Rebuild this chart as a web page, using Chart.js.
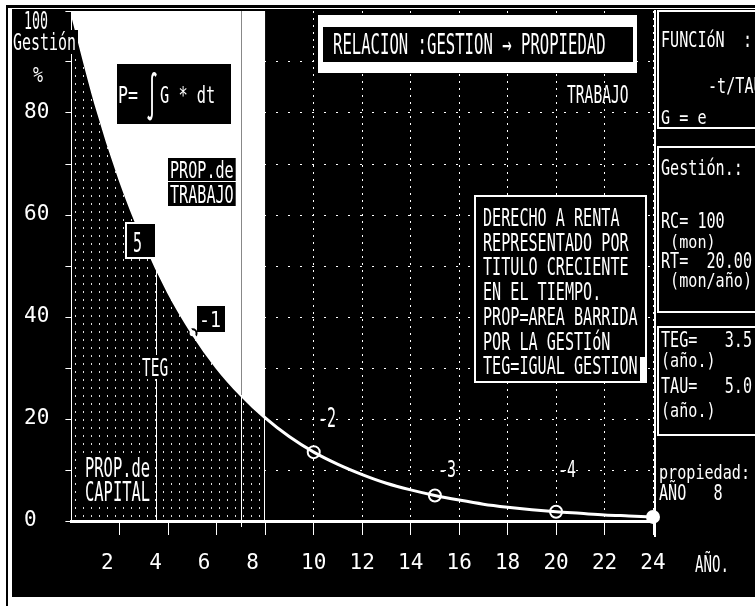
<!DOCTYPE html>
<html>
<head>
<meta charset="utf-8">
<script src="https://cdn.jsdelivr.net/npm/chart.js@4.4.0/dist/chart.umd.min.js"></script>
<style>
  html, body { margin: 0; padding: 0; background: #fff; }
  canvas { display: block; }
</style>
</head>
<body>
<canvas id="gestionChart" width="755" height="606"></canvas>
<script>
// Values
const years = [0, 1, 2, 3, 4, 5, 6, 7, 8, 9, 10, 11, 12, 13, 14, 15, 16, 17, 18, 19, 20, 21, 22, 23, 24];
const gestion = [100, 81.9, 67.0, 54.9, 44.9, 36.8, 30.1, 24.7, 20.2, 16.5, 13.5, 11.1, 9.1, 7.4, 6.1, 5.0, 4.1, 3.3, 2.7, 2.2, 1.8, 1.5, 1.2, 1.0, 0.8];
const markerYears = [5, 10, 15, 20];
const endYear = 24;
const propYear = 8;      // AÑO 8: end of the swept area
const tegYear = 3.5;     // TEG
const tegValue = 49.6;
const cutYear = 7;
const cutValue = 24.7;

const MONO = '"DejaVu Sans Mono", "Liberation Mono", monospace';
const TICK_FONT = '"DejaVu Sans Mono", monospace';
const NONE = 'rgba(0,0,0,0)';

const curvePoints = years.map((t, i) => ({ x: t, y: gestion[i] }));
const capitalPoints = curvePoints.filter(p => p.x <= propYear);
const markerPoints = markerYears.map(t => ({ x: t, y: gestion[years.indexOf(t)] }));
const endPoint = [{ x: endYear, y: gestion[years.indexOf(endYear)] }];

// dotted fill for the capital area
const pc = document.createElement('canvas');
pc.width = 8; pc.height = 8;
const pctx = pc.getContext('2d');
pctx.fillStyle = '#000';
pctx.fillRect(0, 0, 8, 8);
pctx.fillStyle = '#ddd';
pctx.fillRect(3, 3, 1, 2);
const dotPattern = pctx.createPattern(pc, 'repeat');

function put(ctx, s, x, top, capH, cw, color, bg) {
  const size = capH / 0.73;
  ctx.font = size.toFixed(1) + 'px ' + MONO;
  ctx.textAlign = 'left';
  ctx.textBaseline = 'alphabetic';
  if (bg) {
    ctx.fillStyle = bg;
    ctx.fillRect(x - 2, top - 3, s.length * cw + 4, capH + 6);
  }
  ctx.fillStyle = color || '#fff';
  ctx.fillText(s, x, top + capH, s.length * cw);
}

const screenPlugin = {
  id: 'screen',
  beforeDraw(chart) {
    const ctx = chart.ctx;
    ctx.save();
    ctx.fillStyle = '#fff';
    ctx.fillRect(0, 0, 755, 606);
    ctx.fillStyle = '#000';
    ctx.fillRect(6, 5, 749, 3);
    ctx.fillRect(6, 5, 2, 601);
    ctx.fillRect(12, 9, 743, 588);
    ctx.restore();
  },
  afterDatasetsDraw(chart) {
    const ctx = chart.ctx;
    const xs = chart.scales.x, ys = chart.scales.y;
    const y0 = ys.getPixelForValue(0);
    ctx.save();
    ctx.lineWidth = 1;
    // line at year 7
    let x = Math.round(xs.getPixelForValue(cutYear)) + 0.5;
    ctx.strokeStyle = '#888';
    ctx.beginPath();
    ctx.moveTo(x, chart.chartArea.top);
    ctx.lineTo(x, ys.getPixelForValue(cutValue));
    ctx.stroke();
    ctx.strokeStyle = '#fff';
    ctx.beginPath();
    ctx.moveTo(x, ys.getPixelForValue(cutValue));
    ctx.lineTo(x, y0 + 6);
    ctx.stroke();
    // TEG line
    x = Math.round(xs.getPixelForValue(tegYear)) + 0.5;
    ctx.beginPath();
    ctx.moveTo(x, ys.getPixelForValue(tegValue));
    ctx.lineTo(x, y0);
    ctx.stroke();
    // edge of swept area
    x = Math.round(xs.getPixelForValue(propYear)) - 0.5;
    ctx.beginPath();
    ctx.moveTo(x, ys.getPixelForValue(gestion[years.indexOf(propYear)]));
    ctx.lineTo(x, y0);
    ctx.stroke();
    ctx.restore();
  },
  afterDraw(chart) {
    const ctx = chart.ctx;
    ctx.save();
    // y axis head
    put(ctx, '100', 24, 11, 18, 8);
    ctx.fillStyle = '#000';
    ctx.fillRect(12, 30, 66, 24);
    put(ctx, 'Gestión', 13, 33, 17, 9);
    put(ctx, '%', 33, 66, 16, 10);

    // P = integral box
    ctx.fillStyle = '#000';
    ctx.fillRect(117, 64, 114, 60);
    put(ctx, 'P=', 118, 86, 17, 10);
    ctx.font = '46px ' + MONO;
    ctx.fillStyle = '#fff';
    ctx.fillText('∫', 146, 112, 12);
    put(ctx, 'G * dt', 160, 86, 17, 9.2);

    put(ctx, 'PROP.de', 170, 161, 17, 9.1, '#fff', '#000');
    put(ctx, 'TRABAJO', 170, 185, 18, 9.1, '#fff', '#000');

    // "5" box
    ctx.fillStyle = '#fff';
    ctx.fillRect(125, 222, 32, 37);
    ctx.fillStyle = '#000';
    ctx.fillRect(127, 224, 28, 33);
    put(ctx, '5', 133, 233, 19, 9);

    ctx.fillStyle = '#000';
    ctx.fillRect(197, 306, 28, 26);
    put(ctx, '-1', 199, 311, 16, 11);

    put(ctx, 'TEG', 142, 358, 18, 8.7, '#fff', '#000');
    put(ctx, 'PROP.de', 85, 457, 20, 9.3, '#fff', '#000');
    put(ctx, 'CAPITAL', 85, 481, 20, 9.3, '#fff', '#000');

    put(ctx, '-2', 318, 408, 19, 9);
    put(ctx, '-3', 438, 460, 17, 9);
    put(ctx, '-4', 558, 460, 17, 9);
    put(ctx, 'TRABAJO', 567, 85, 18, 8.8);

    // title
    ctx.fillStyle = '#fff';
    ctx.fillRect(318, 15, 319, 58);
    ctx.fillStyle = '#000';
    ctx.fillRect(323, 27, 310, 35);
    put(ctx, 'RELACION :GESTION → PROPIEDAD', 333, 33, 21, 9.4);

    // description box
    ctx.fillStyle = '#000';
    ctx.fillRect(474, 195, 173, 188);
    ctx.strokeStyle = '#fff';
    ctx.lineWidth = 2;
    ctx.strokeRect(475, 196, 171, 186);
    const desc = ['DERECHO A RENTA', 'REPRESENTADO POR', 'TITULO CRECIENTE', 'EN EL TIEMPO.',
      'PROP=AREA BARRIDA', 'POR LA GESTIóN', 'TEG=IGUAL GESTION'];
    desc.forEach((s, i) => put(ctx, s, 483, 208 + i * 24.7, 18, 9.1));
    ctx.fillStyle = '#fff';
    ctx.fillRect(640, 357, 7, 25);

    // right panel
    ctx.strokeStyle = '#fff';
    ctx.lineWidth = 2;
    ctx.beginPath();
    ctx.moveTo(655, 10);
    ctx.lineTo(655, 537);
    ctx.stroke();
    ctx.strokeRect(658, 11, 110, 117);
    ctx.strokeRect(658, 147, 110, 165);
    ctx.strokeRect(658, 327, 110, 108);
    put(ctx, 'FUNCIóN  :', 661, 32, 15, 9.1);
    put(ctx, '-t/TAU', 708, 78, 15, 9.1);
    put(ctx, 'G = e', 661, 110, 14, 9.1);
    put(ctx, 'Gestión.:', 661, 160, 15, 9.1);
    put(ctx, 'RC= 100', 661, 213, 15, 9.1);
    put(ctx, ' (mon)', 661, 235, 13, 9.1);
    put(ctx, 'RT=  20.00', 661, 253, 15, 9.1);
    put(ctx, ' (mon/año)', 661, 273, 14, 9.1);
    put(ctx, 'TEG=   3.5', 661, 331, 16, 9.1);
    put(ctx, '(año.)', 661, 353, 14, 9.1);
    put(ctx, 'TAU=   5.0', 661, 377, 16, 9.1);
    put(ctx, '(año.)', 661, 403, 14, 9.1);
    put(ctx, 'propiedad:', 659, 465, 14, 9.1);
    put(ctx, 'AÑO   8', 659, 485, 15, 9.1);

    put(ctx, 'AÑO.', 695, 555, 17, 8.5);
    ctx.restore();
  }
};

new Chart(document.getElementById('gestionChart'), {
  type: 'line',
  data: {
    datasets: [
      {
        label: 'PROP. de CAPITAL',
        data: capitalPoints,
        fill: 'origin',
        backgroundColor: dotPattern,
        borderWidth: 0,
        pointRadius: 0,
        cubicInterpolationMode: 'monotone',
        order: 5,
      },
      {
        label: 'PROP. de TRABAJO',
        data: capitalPoints,
        fill: 'end',
        backgroundColor: '#fff',
        borderWidth: 0,
        pointRadius: 0,
        cubicInterpolationMode: 'monotone',
        order: 4,
      },
      {
        label: 'Gestión',
        data: curvePoints,
        borderColor: '#fff',
        borderWidth: 3,
        pointRadius: 0,
        fill: false,
        cubicInterpolationMode: 'monotone',
        order: 2,
      },
      {
        label: 'marcas',
        data: markerPoints,
        showLine: false,
        pointRadius: [4, 6, 6, 6],
        pointBorderWidth: 2,
        pointBackgroundColor: ['#fff', '#000', '#000', '#000'],
        pointBorderColor: ['#000', '#fff', '#fff', '#fff'],
        order: 3,
      },
      {
        label: 'fin',
        data: endPoint,
        showLine: false,
        pointRadius: 7,
        pointBorderWidth: 0,
        pointBackgroundColor: '#fff',
        clip: false,
        order: 1,
      },
    ],
  },
  options: {
    responsive: false,
    animation: false,
    devicePixelRatio: 1,
    events: [],
    layout: { padding: { left: 12, right: 102, top: 11, bottom: 0 } },
    plugins: { legend: { display: false }, tooltip: { enabled: false } },
    scales: {
      x: {
        type: 'linear',
        min: 0,
        max: 24,
        afterFit(s) { s.height = 85; s.paddingLeft = 0; s.paddingRight = 0; },
        ticks: {
          stepSize: 2,
          autoSkip: false,
          maxRotation: 0,
          color: '#fff',
          padding: 16,
          font: { family: TICK_FONT, size: 21 },
          callback: v => v === 0 ? '' : (v < 10 ? v + '  ' : String(v)),
        },
        grid: {
          color: c => (c.tick && c.tick.value > propYear) ? '#fff' : NONE,
          tickColor: c => (c.tick && c.tick.value > 0) ? '#fff' : NONE,
          tickLength: 14,
        },
        border: { color: '#fff', width: 3, z: 1, dash: [2, 5] },
      },
      y: {
        min: 0,
        max: 100,
        afterFit(s) { s.width = 59.4; s.paddingTop = 0; s.paddingBottom = 0; },
        ticks: {
          stepSize: 10,
          autoSkip: false,
          color: '#fff',
          padding: 16,
          font: { family: TICK_FONT, size: 21 },
          callback: v => (v % 20 === 0 && v !== 100) ? (v === 0 ? '0 ' : String(v)) : '',
        },
        grid: {
          color: c => (c.tick && c.tick.value > 0 && c.tick.value < 100) ? '#fff' : NONE,
          tickColor: '#fff',
          tickLength: 6,
        },
        border: { color: '#fff', width: 1, z: 1, dash: [2, 10] },
      },
    },
  },
  plugins: [screenPlugin],
});
</script>
</body>
</html>
